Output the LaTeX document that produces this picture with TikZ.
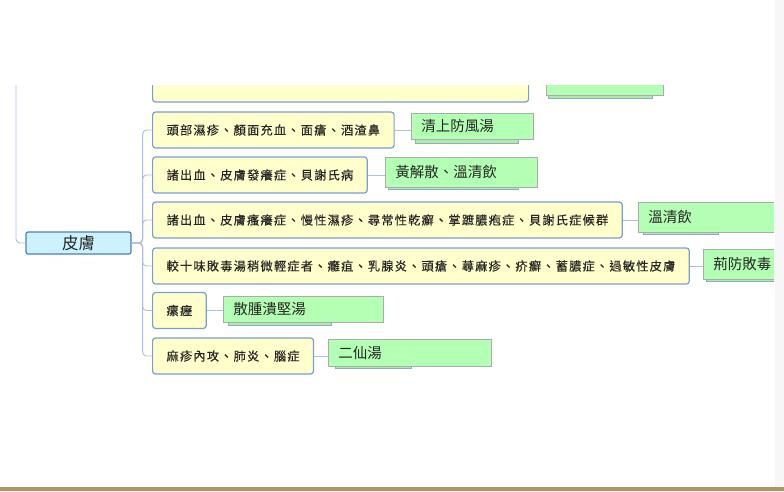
\documentclass[tikz,border=0pt]{standalone}
\usepackage{fontspec}
\setmainfont{Noto Sans CJK TC}
\newfontfamily\cjkbox{Noto Sans CJK TC}[LetterSpace=10, FakeBold=0.3]
\usetikzlibrary{backgrounds,positioning}
\definecolor{boxline}{HTML}{7C9CD6}
\definecolor{boxfill}{HTML}{FFFFCC}
\definecolor{rootfill}{HTML}{CCF2FF}
\definecolor{rootline}{HTML}{4A7CC4}
\definecolor{herbfill}{HTML}{B3FFB3}
\definecolor{herbline}{HTML}{ABABAB}
\definecolor{herbshade}{HTML}{8FA9CF}
\definecolor{linkcol}{HTML}{A9BFE8}
\definecolor{inkcol}{HTML}{262626}
\definecolor{footband}{HTML}{B39268}

\begin{document}
\begin{tikzpicture}
	[x=1pt, y=-1pt, inner sep=0pt,
	root/.style	= {rectangle, rounded corners=2pt, draw=rootline, line width=1.2pt, fill=rootfill, minimum width=105pt, minimum height=22pt, font=\fontsize{16.5}{18}\selectfont, text=inkcol},
	symptom/.style	= {rectangle, rounded corners=3pt, draw=boxline, line width=1.2pt, fill=boxfill, anchor=west, minimum height=36pt, inner xsep=14pt, font=\cjkbox\fontsize{12.2}{14}\selectfont, text=inkcol},
	herb/.style	= {rectangle, draw=herbline, line width=0.8pt, fill=herbfill, anchor=west, minimum height=28pt, inner xsep=10pt, align=left, font=\fontsize{14.5}{16}\selectfont, text=inkcol},
	shade/.style	= {draw=herbshade, line width=1pt, fill=herbfill!85!gray},
	link/.style	= {draw=linkcol, line width=0.9pt, rounded corners=4pt}]
	
	\useasboundingbox (0,0) rectangle (784,491);
	\fill[black!3] (775,0) rectangle (784,487);
	\fill[footband] (0,487) rectangle (784,491);
	
	\begin{scope}
	\clip (0,85) rectangle (774,487);
	
	\node at (78.5,243)	[root]	(root)	{皮膚};
	
	\node at (152,82)	[symptom, minimum width=376pt, minimum height=40pt]	(s1)	{};
	\node at (152,130)	[symptom]	(s2)	{頭部濕疹、顏面充血、面瘡、酒渣鼻};
	\node at (152,175)	[symptom]	(s3)	{諸出血、皮膚發癢症、貝謝氏病};
	\node at (152,220)	[symptom]	(s4)	{諸出血、皮膚瘙癢症、慢性濕疹、尋常性乾癬、掌蹠膿疱症、貝謝氏症候群};
	\node at (152,266)	[symptom]	(s5)	{較十味敗毒湯稍微輕症者、癰疽、乳腺炎、頭瘡、蕁麻疹、疥癬、蓄膿症、過敏性皮膚};
	\node at (152,310.5)	[symptom]	(s6)	{瘰癧};
	\node at (152,356)	[symptom]	(s7)	{麻疹內攻、肺炎、腦症};
	
	\node at (546,80)	[herb, text width=97pt, minimum height=30pt]	(r1)	{};
	\node at (411,126)	[herb, text width=102pt, minimum height=26pt]	(r2)	{清上防風湯};
	\node at (385,172)	[herb, text width=132pt, minimum height=30pt]	(r3)	{黃解散、溫清飲};
	\node at (638,217)	[herb, text width=120pt, minimum height=30pt]	(r4)	{溫清飲};
	\node at (703,264)	[herb, text width=80pt, minimum height=30pt]	(r5)	{荊防敗毒};
	\node at (223,309)	[herb, text width=140pt, minimum height=26pt]	(r6)	{散腫潰堅湯};
	\node at (328,352.5)	[herb, text width=143pt, minimum height=27pt]	(r7)	{二仙湯};
	
	\begin{scope}[on background layer]
	\clip (0,85) rectangle (774,487);
	\draw[shade] ([xshift=2pt,yshift=-3pt]r1.south west) rectangle ++(104pt,10pt);
	\draw[shade] ([xshift=4pt,yshift=-4pt]r2.south west) rectangle ++(103pt,10pt);
	\draw[shade] ([xshift=3pt,yshift=-2pt]r3.south west) rectangle ++(130pt,10pt);
	\draw[shade] ([xshift=5pt,yshift=-2pt]r4.south west) rectangle ++(75pt,10pt);
	\draw[shade] ([xshift=3pt,yshift=-2pt]r5.south west) rectangle ++(75pt,10pt);
	\draw[shade] ([xshift=5pt,yshift=-3pt]r6.south west) rectangle ++(103pt,10pt);
	\draw[shade] ([xshift=7pt,yshift=-2pt]r7.south west) rectangle ++(76pt,10pt);
	\end{scope}
	
	\coordinate (up) at (16,70);
	\draw [link] (root.west) -| (up);
	
	\draw [link] (root.east) -- ++(11,0) |- (s2.west);
	\draw [link] (root.east) -- ++(11,0) |- (s3.west);
	\draw [link] (root.east) -- ++(11,0) |- (s4.west);
	\draw [link] (root.east) -- ++(11,0) |- (s5.west);
	\draw [link] (root.east) -- ++(11,0) |- (s6.west);
	\draw [link] (root.east) -- ++(11,0) |- (s7.west);
	
	\draw [link] (s2.east) -- (s2.east -| r2.west);
	\draw [link] (s3.east) -- (s3.east -| r3.west);
	\draw [link] (s4.east) -- (s4.east -| r4.west);
	\draw [link] (s5.east) -- (s5.east -| r5.west);
	\draw [link] (s6.east) -- (s6.east -| r6.west);
	\draw [link] (s7.east) -- (s7.east -| r7.west);
	\end{scope}
	\end{tikzpicture}
\end{document}
